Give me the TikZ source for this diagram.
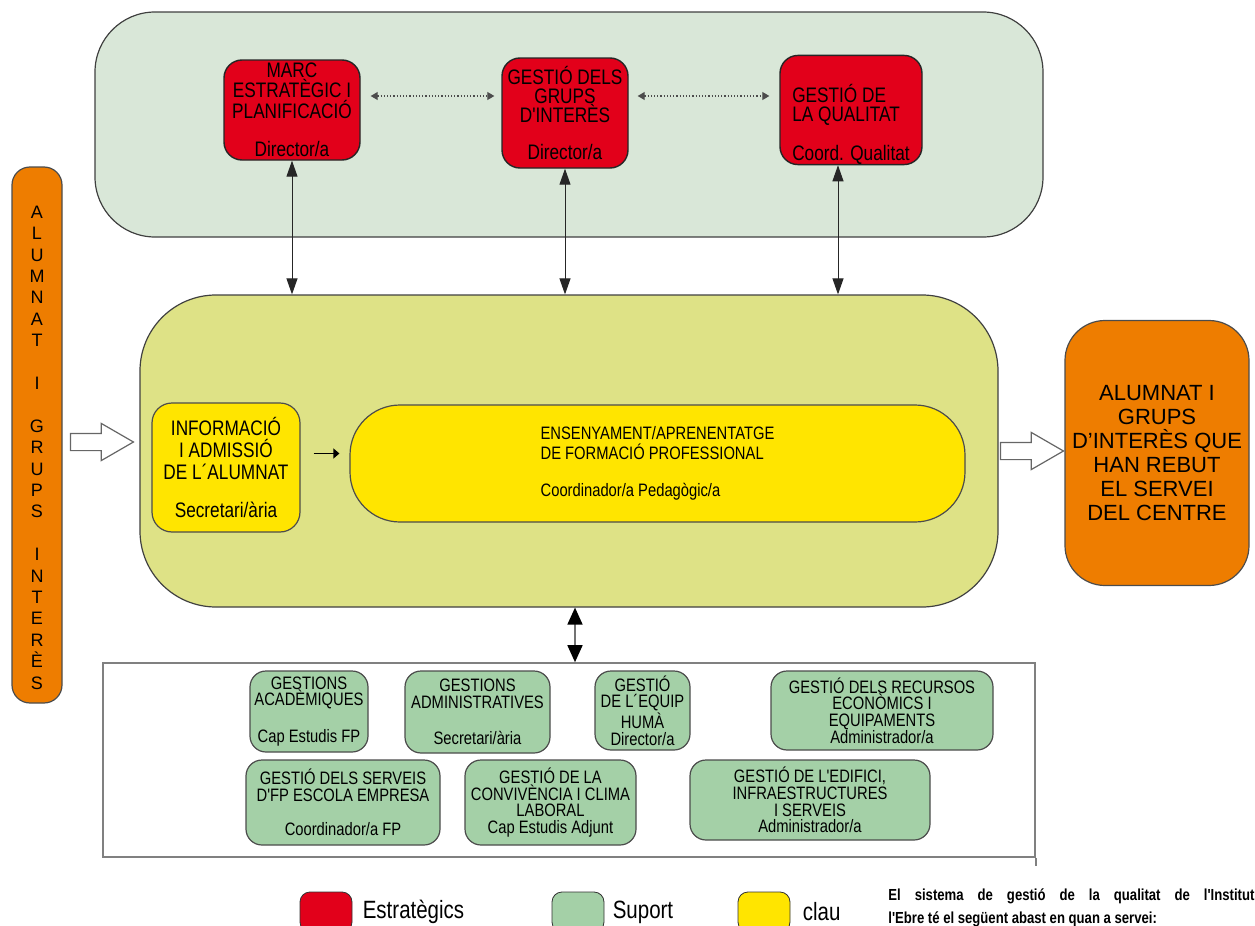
\documentclass[tikz,border=0pt]{standalone}
\usepackage{fontspec}
\setmainfont{Liberation Sans}
\newfontfamily\narrowfont{Liberation Sans}[FakeStretch=0.82]
\usetikzlibrary{arrows.meta}
\usetikzlibrary{shapes.arrows}
\definecolor{planfill}{RGB}{217,231,216}
\definecolor{midfill}{RGB}{222,226,134}
\definecolor{estrat}{RGB}{226,0,26}
\definecolor{clau}{RGB}{255,229,0}
\definecolor{suport}{RGB}{164,208,167}
\definecolor{alumnes}{RGB}{238,125,0}

\begin{document}
\begin{tikzpicture}[x=0.5pt,y=-0.5pt,
  container/.style={draw=black!75,line width=0.6pt},
  redbox/.style={draw=black!85,fill=estrat,rounded corners=9pt,line width=0.7pt,align=center,inner sep=0pt,font=\narrowfont\fontsize{10.5}{9.5}\selectfont},
  yellowbox/.style={draw=black!70,fill=clau,line width=0.6pt,inner sep=0pt,font=\narrowfont\fontsize{10.5}{11}\selectfont},
  greenbox/.style={draw=black!70,fill=suport,rounded corners=8pt,line width=0.6pt,align=center,inner sep=0pt,font=\narrowfont\fontsize{9}{8.3}\selectfont},
  orangebox/.style={draw=black!70,fill=alumnes,line width=0.6pt},
  hollow/.style={single arrow,draw=black!60,fill=white,line width=0.6pt,minimum height=31.5pt,inner xsep=0pt,inner ysep=4pt,single arrow head extend=5pt,single arrow tip angle=60},
  bigtip/.style={{Triangle[length=8pt,width=5.5pt]}-{Triangle[length=8pt,width=5.5pt]},black!85,line width=0.5pt},
  dotarrow/.style={{Triangle[length=3.5pt,width=4pt]}-{Triangle[length=3.5pt,width=4pt]},black!70,densely dotted,line width=0.6pt},
  swatch/.style={draw=black!80,rounded corners=5pt,minimum width=26pt,minimum height=20pt},
  legtext/.style={anchor=west,inner sep=0pt,font=\narrowfont\fontsize{12.5}{14}\selectfont}
]
\useasboundingbox (0,0) rectangle (1255,926);

\node[container,fill=planfill,rounded corners=30pt,minimum width=474pt,minimum height=112.5pt] (plan) at (569,124.5) {};
\node[container,fill=midfill,rounded corners=38pt,minimum width=429pt,minimum height=156pt] (mid) at (569,451) {};
\node[draw=black!50,line width=0.8pt,minimum width=466pt,minimum height=97pt] (suportframe) at (569,760) {};
\draw[black!50,line width=0.8pt] (suportframe.south east) -- ++(0,8);

\node[redbox,font=\narrowfont\fontsize{10.5}{8.3}\selectfont,minimum width=68pt,minimum height=50pt] (marc) at (292,110) {MARC\\ESTRATÈGIC I\\PLANIFICACIÓ\\[11pt]Director/a};
\node[redbox,minimum width=63pt,minimum height=55pt] (grups) at (565,113) {GESTIÓ DELS\\GRUPS\\D'INTERÈS\\[9pt]Director/a};
\node[redbox,align=left,minimum width=71pt,minimum height=54pt] (qualitat) at (851,110) {\mbox{}\\[14pt]GESTIÓ DE\\LA QUALITAT\\[9pt]Coord. Qualitat};

\draw[dotarrow,shorten <=5pt,shorten >=3.5pt] ([yshift=7pt]marc.east) -- ([yshift=7pt]marc.east -| grups.west);
\draw[dotarrow,shorten <=4.5pt,shorten >=5pt] ([yshift=8.5pt]grups.east) -- ([yshift=8.5pt]grups.east -| qualitat.west);

\draw[bigtip] (marc.south) -- (marc.south |- mid.north);
\draw[bigtip] (grups.south) -- (grups.south |- mid.north);
\draw[bigtip] ([xshift=-6.5pt]qualitat.south) -- ([xshift=-6.5pt]qualitat.south |- mid.north);

\node[yellowbox,rounded corners=10pt,align=center,minimum width=74pt,minimum height=64.5pt] (info) at (226,467.5) {INFORMACIÓ\\I ADMISSIÓ\\DE L´ALUMNAT\\[8pt]Secretari/ària};
\node[yellowbox,rounded corners=25pt,align=left,font=\narrowfont\fontsize{9}{10}\selectfont,minimum width=307.5pt,minimum height=58.5pt] (ensenyament) at (657.5,463.5) {ENSENYAMENT/APRENENTATGE\\DE FORMACIÓ PROFESSIONAL\\[8.5pt]Coordinador/a Pedagògic/a};
\draw[-{Triangle[length=3pt,width=5pt]},black,line width=0.6pt,shorten <=6.5pt,shorten >=5pt] ([yshift=7pt]info.east) -- ([yshift=7pt]info.east -| ensenyament.west);

\node[orangebox,rounded corners=9pt,minimum width=25pt,minimum height=268pt] (entrada) at (37,435) {};
\node[align=center,inner sep=0pt,font=\fontsize{9}{10.7}\selectfont] (entradatext) at (37,447.5) {A\\L\\U\\M\\N\\A\\T\\[10.7pt]I\\[10.7pt]G\\R\\U\\P\\S\\[10.7pt]I\\N\\T\\E\\R\\È\\S};
\node[hollow] (arribada) at (94.5,442) {};

\node[orangebox,rounded corners=20pt,minimum width=92pt,minimum height=132.5pt,align=center,font=\fontsize{11}{12}\selectfont] (sortida) at (1157,453) {ALUMNAT I\\GRUPS\\D’INTERÈS QUE\\HAN REBUT\\EL SERVEI\\DEL CENTRE};
\node[hollow] (lliurament) at (1024.5,451) {};

\draw[{Triangle[length=8.5pt,width=7.5pt,color=black]}-{Triangle[length=8.5pt,width=7.5pt,color=black]},black!55,line width=0.8pt] ([xshift=3pt]mid.south) -- ([xshift=3pt]mid.south |- suportframe.north);

\node[greenbox,minimum width=59pt,minimum height=40.5pt] (academiques) at (309,711.5) {GESTIONS\\ACADÈMIQUES\\[10pt]Cap Estudis FP};
\node[greenbox,minimum width=72.5pt,minimum height=41pt] (administratives) at (477.5,712) {GESTIONS\\ADMINISTRATIVES\\[10pt]Secretari/ària};
\node[greenbox,minimum width=47.5pt,minimum height=39.5pt] (equip) at (642.5,710.5) {GESTIÓ\\DE L´EQUIP\\HUMÀ\\Director/a};
\node[greenbox,minimum width=111pt,minimum height=39.5pt] (recursos) at (882,710.5) {GESTIÓ DELS RECURSOS\\ECONÒMICS I\\EQUIPAMENTS\\Administrador/a};
\node[greenbox,minimum width=97pt,minimum height=42.5pt] (serveis) at (343,802.5) {GESTIÓ DELS SERVEIS\\D'FP ESCOLA EMPRESA\\[9pt]Coordinador/a FP};
\node[greenbox,minimum width=85.5pt,minimum height=42.5pt] (convivencia) at (550.5,802.5) {GESTIÓ DE LA\\CONVIVÈNCIA I CLIMA\\LABORAL\\Cap Estudis Adjunt};
\node[greenbox,minimum width=120pt,minimum height=40pt] (edifici) at (810,800) {GESTIÓ DE L'EDIFICI,\\INFRAESTRUCTURES\\I SERVEIS\\Administrador/a};

\node[swatch,fill=estrat] (legestrat) at (326,912) {};
\node[legtext] (legestrattext) at ([xshift=5pt]legestrat.east) {Estratègics};
\node[swatch,fill=suport] (legsuport) at (578,912) {};
\node[legtext] (legsuporttext) at ([xshift=4pt]legsuport.east) {Suport};
\node[swatch,fill=clau] (legclau) at (764,912) {};
\node[legtext] (legclautext) at ([xshift=6pt]legclau.east) {clau};
\node[anchor=north west,align=left,inner sep=0pt,font=\narrowfont\bfseries\fontsize{8}{11.5}\selectfont] (abast) at (888,888) {\makebox[183pt][s]{El sistema de gestió de la qualitat de l'Institut}\\l'Ebre té el següent abast en quan a servei:};
\end{tikzpicture}
\end{document}
